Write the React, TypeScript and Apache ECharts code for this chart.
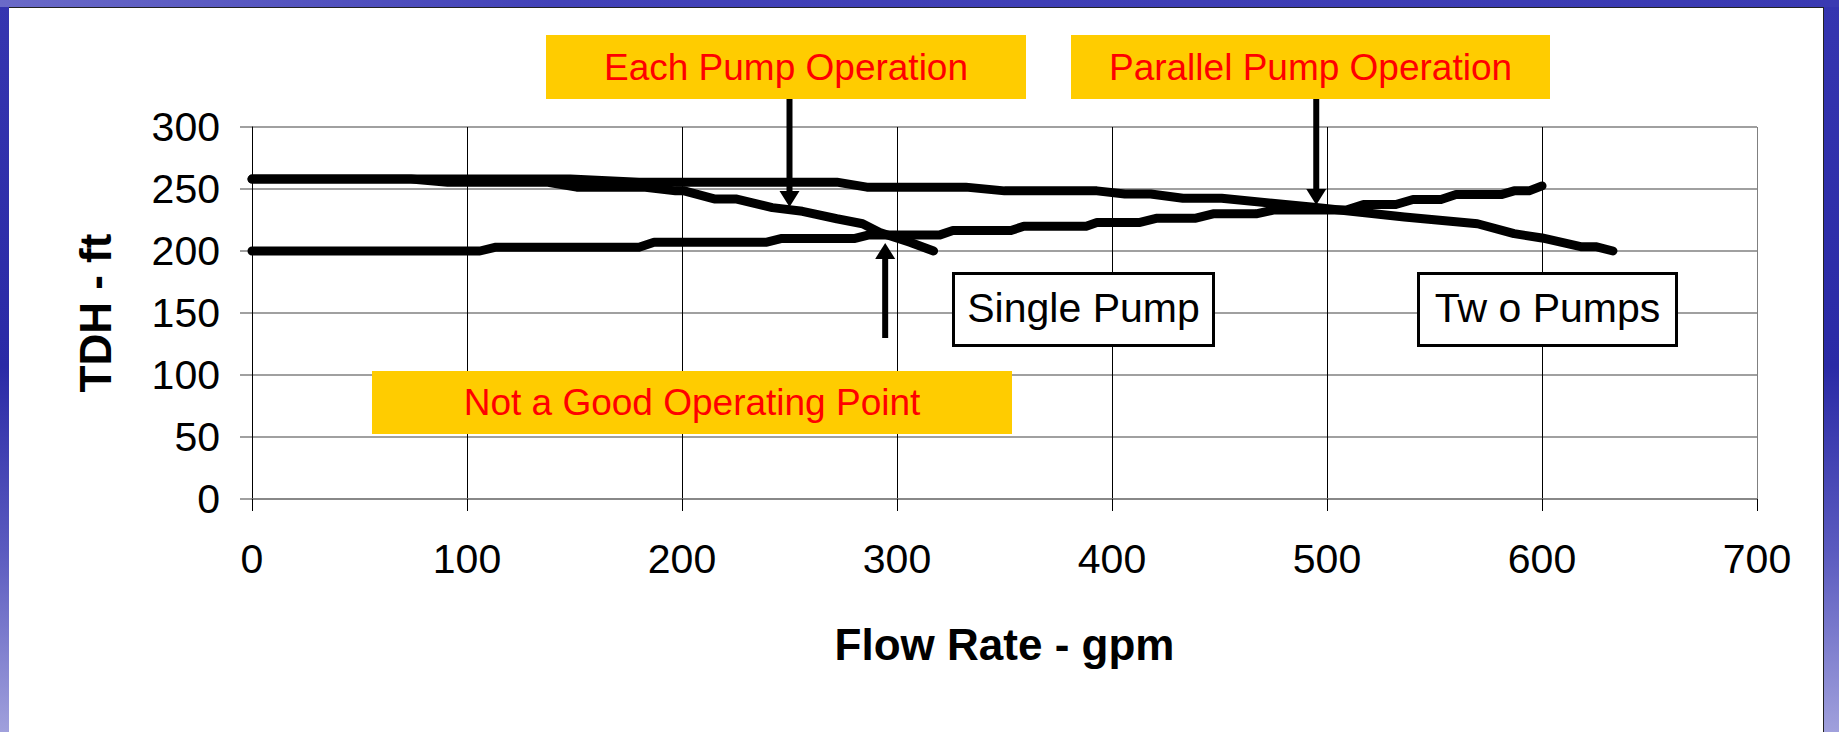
import React, { useEffect, useRef } from "react";
import * as echarts from "echarts";

// ---- data ----
const singlePumpX = [0, 74, 91, 137, 151, 182, 197, 201, 215, 225, 242, 256, 272, 284, 292, 306, 317];
const singlePumpY = [258, 258, 255.5, 255.5, 251.5, 251.5, 248.5, 248.5, 242, 242, 235, 232, 226, 222, 215, 207, 200];

const twoPumpsX = [0, 148, 180, 272, 286, 332, 350, 393, 406, 418, 433, 451, 495, 536, 570, 587, 600, 618, 625, 633];
const twoPumpsY = [258, 258, 255.5, 255.5, 251.5, 251.5, 248.5, 248.5, 246, 246, 242.5, 242.5, 235, 227.5, 222, 214, 210.5, 203.5, 203.5, 200];

const systemX = [0, 106, 113, 180, 187, 239, 246, 280, 287, 320, 326, 353, 359, 388, 393, 413, 421, 439, 447, 467, 475, 509, 517, 532, 540, 553, 560, 581, 587, 594, 600];
const systemY = [200, 200, 203, 203, 207, 207, 210, 210, 213, 213, 216.5, 216.5, 220, 220, 223, 223, 226.5, 226.5, 230, 230, 233, 233, 237.5, 237.5, 241.5, 241.5, 245.5, 245.5, 248.5, 248.5, 252.5];

const xMin = 0, xMax = 700, xStep = 100;
const yMin = 0, yMax = 300, yStep = 50;

const eachPumpTip = [250, 235.5];
const parallelTip = [495, 237];
const badPointTip = [294.5, 206.5];

const FONT = "'Liberation Sans', Arial, Helvetica, sans-serif";

function zip(xs: number[], ys: number[]) {
  return xs.map((x, i) => [x, ys[i]]);
}

export default function App() {
  const ref = useRef<HTMLDivElement>(null);
  useEffect(() => {
    if (!ref.current) return;
    const chart = echarts.init(ref.current, undefined, { renderer: "svg" });
    const lineStyle = { color: "#000", width: 9, cap: "round", join: "round" } as any;
    chart.setOption({
      animation: false,
      backgroundColor: "transparent",
      grid: { left: 252, top: 127, width: 1505, height: 372, containLabel: false },
      xAxis: {
        type: "value",
        min: xMin,
        max: xMax,
        interval: xStep,
        name: "Flow Rate - gpm",
        nameLocation: "middle",
        nameGap: 123,
        nameTextStyle: { fontFamily: FONT, fontSize: 44, fontWeight: "bold", color: "#000" },
        axisLine: { show: true, onZero: false, lineStyle: { color: "#808080", width: 1.5 } },
        axisTick: { show: true, inside: false, length: 12, lineStyle: { color: "#000", width: 1 } },
        axisLabel: { fontFamily: FONT, fontSize: 41, color: "#000", margin: 39 },
        splitLine: {
          show: true,
          lineStyle: { color: ["#000", "#000", "#000", "#000", "#000", "#000", "#000", "#808080"], width: 1 },
        },
      },
      yAxis: {
        type: "value",
        min: yMin,
        max: yMax,
        interval: yStep,
        name: "TDH - ft",
        nameLocation: "middle",
        nameRotate: 90,
        nameGap: 135,
        nameTextStyle: { fontFamily: FONT, fontSize: 44, fontWeight: "bold", color: "#000" },
        axisLine: { show: true, onZero: false, lineStyle: { color: "#000", width: 1 } },
        axisTick: { show: true, inside: false, length: 12, lineStyle: { color: "#808080", width: 1.5 } },
        axisLabel: { fontFamily: FONT, fontSize: 41, color: "#000", margin: 32 },
        splitLine: { show: true, lineStyle: { color: "#808080", width: 1.5 } },
      },
      series: [
        { name: "Single Pump", type: "line", data: zip(singlePumpX, singlePumpY), showSymbol: false, lineStyle, z: 3 },
        { name: "Two Pumps", type: "line", data: zip(twoPumpsX, twoPumpsY), showSymbol: false, lineStyle, z: 3 },
        { name: "System", type: "line", data: zip(systemX, systemY), showSymbol: false, lineStyle, z: 3 },
      ],
    });

    const p1 = chart.convertToPixel({ gridIndex: 0 }, eachPumpTip) as number[];
    const p2 = chart.convertToPixel({ gridIndex: 0 }, parallelTip) as number[];
    const p3 = chart.convertToPixel({ gridIndex: 0 }, badPointTip) as number[];

    const downArrow = (x: number, tipY: number, tailY: number) => [
      { type: "line", z: 60, shape: { x1: x, y1: tailY, x2: x, y2: tipY - 10 }, style: { stroke: "#000", lineWidth: 6 } },
      { type: "polygon", z: 60, shape: { points: [[x - 10, tipY - 16], [x + 10, tipY - 16], [x, tipY]] }, style: { fill: "#000" } },
    ];
    const upArrow = (x: number, tipY: number, tailY: number) => [
      { type: "line", z: 60, shape: { x1: x, y1: tailY, x2: x, y2: tipY + 10 }, style: { stroke: "#000", lineWidth: 6 } },
      { type: "polygon", z: 60, shape: { points: [[x - 10, tipY + 16], [x + 10, tipY + 16], [x, tipY]] }, style: { fill: "#000" } },
    ];
    const yellowBox = (x: number, y: number, w: number, h: number, text: string) => [
      { type: "rect", z: 55, shape: { x, y, width: w, height: h }, style: { fill: "#FFCC00" } },
      {
        type: "text", z: 56, x: x + w / 2, y: y + h / 2,
        style: { text, fill: "#FF0000", fontSize: 37, fontFamily: FONT, align: "center", verticalAlign: "middle" },
      },
    ];
    const whiteBox = (x: number, y: number, w: number, h: number, text: string) => [
      { type: "rect", z: 55, shape: { x, y, width: w, height: h }, style: { fill: "#fff", stroke: "#000", lineWidth: 3 } },
      {
        type: "text", z: 56, x: x + w / 2, y: y + h / 2 - 2,
        style: { text, fill: "#000", fontSize: 41, fontFamily: FONT, align: "center", verticalAlign: "middle" },
      },
    ];

    chart.setOption({
      graphic: [
        ...yellowBox(546, 35, 480, 64, "Each Pump Operation"),
        ...yellowBox(1071, 35, 479, 64, "Parallel Pump Operation"),
        ...yellowBox(372, 371, 640, 63, "Not a Good Operating Point"),
        ...whiteBox(953.5, 273.5, 260, 72, "Single Pump"),
        ...whiteBox(1418.5, 273.5, 258, 72, "Tw o Pumps"),
        ...downArrow(p1[0], p1[1], 99),
        ...downArrow(p2[0], p2[1], 99),
        ...upArrow(p3[0], p3[1], 338),
      ],
    });

    return () => chart.dispose();
  }, []);

  return (
    <div
      style={{
        position: "fixed",
        left: 0,
        top: 0,
        width: 1839,
        height: 732,
        background: "linear-gradient(to bottom, #3535b0 0%, #2a2aa6 50%, #5a5abf 75%, #a0a0dc 100%)",
        overflow: "hidden",
      }}
    >
      <div
        style={{
          position: "absolute",
          left: 0,
          top: 0,
          width: 1839,
          height: 7,
          background: "linear-gradient(to right, #6a6ac8 0%, #4242b8 30%, #3a3ab2 100%)",
        }}
      />
      <div
        style={{
          position: "absolute",
          left: 9,
          top: 7,
          width: 1815,
          height: 725,
          background: "#fff",
          borderTop: "1px solid #222",
          borderRight: "1px solid #222",
          boxSizing: "border-box",
        }}
      />
      <div ref={ref} style={{ position: "absolute", left: 0, top: 0, width: 1839, height: 732 }} />
    </div>
  );
}
